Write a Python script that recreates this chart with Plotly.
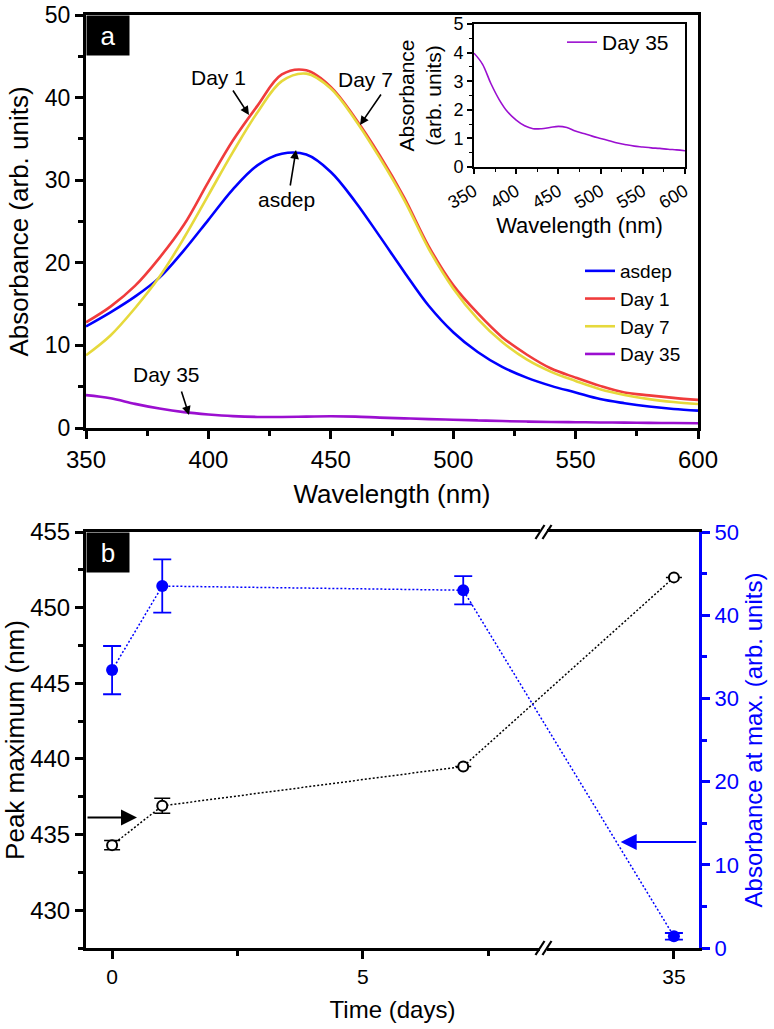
import plotly.graph_objects as go

W, H = 774, 1029
FONT = "Liberation Sans, Arial, sans-serif"

# ---------------- data: panel a ----------------
wavelength = [350, 360, 370, 380, 390, 400, 410, 420, 430, 440, 450, 460, 470,
              480, 490, 500, 510, 520, 530, 540, 550, 560, 570, 580, 590, 600]
asdep = [12.3, 14.0, 15.9, 18.2, 21.5, 25.2, 28.9, 31.8, 33.2, 33.1, 31.0, 27.4, 23.2,
         18.9, 14.8, 11.6, 9.2, 7.4, 6.1, 5.1, 4.3, 3.5, 3.0, 2.6, 2.3, 2.1]
day1 = [12.8, 14.7, 17.2, 20.6, 24.6, 29.8, 34.8, 39.0, 42.8, 43.3, 41.3, 37.5, 33.0,
        27.9, 22.0, 17.3, 13.9, 11.0, 8.9, 7.2, 6.1, 5.1, 4.3, 3.95, 3.65, 3.4]
day7 = [8.8, 11.2, 14.5, 18.3, 23.0, 28.2, 33.4, 38.2, 42.0, 42.9, 41.1, 37.3, 32.7,
        27.6, 21.7, 16.9, 13.2, 10.4, 8.3, 6.8, 5.7, 4.7, 4.0, 3.5, 3.15, 2.9]
day35 = [3.98, 3.6, 2.92, 2.35, 1.92, 1.64, 1.44, 1.34, 1.34, 1.38, 1.42, 1.38, 1.26,
         1.17, 1.08, 1.00, 0.92, 0.84, 0.78, 0.73, 0.70, 0.67, 0.65, 0.62, 0.60, 0.57]
series_names = ["asdep", "Day 1", "Day 7", "Day 35"]
series_colors = ["#0000FF", "#F03C3C", "#E6D93C", "#9B0FD0"]

# ---------------- data: panel b ----------------
days = [0, 1, 7, 35]
peak_max = [434.3, 436.9, 439.5, 452.0]
peak_max_err = [0.3, 0.5, 0.0, 0.0]
abs_max = [33.4, 43.5, 43.0, 1.4]
abs_max_err = [2.9, 3.2, 1.7, 0.4]
time_ticks = [0, 5, 35]
time_minor = [2.5, 7.5]
break_lo, break_hi = 8.6, 32.4


def to_pos(d):
    return d if d <= break_lo else d - (break_hi - break_lo)


def pxx(x):
    return x / W


def pxy(y):
    return 1 - y / H


A_TOP, A_BOT = 15, 428

fig = go.Figure()

for name, ys, col in zip(series_names, [asdep, day1, day7, day35], series_colors):
    fig.add_trace(go.Scatter(x=wavelength, y=ys, mode="lines", name=name,
                             line=dict(color=col, width=2.6, shape="spline"),
                             xaxis="x", yaxis="y", legend="legend"))

fig.add_trace(go.Scatter(x=wavelength, y=day35, mode="lines", name="Day 35",
                         line=dict(color=series_colors[3], width=1.6, shape="spline"),
                         xaxis="x2", yaxis="y2", legend="legend2"))

pos = [to_pos(d) for d in days]
fig.add_trace(go.Scatter(
    x=pos, y=peak_max, mode="lines+markers", showlegend=False,
    line=dict(color="black", width=1.5, dash="2px,2px"),
    marker=dict(symbol="circle", size=10, color="white", line=dict(color="black", width=2)),
    error_y=dict(type="data", array=peak_max_err, color="black", thickness=1.5, width=8),
    xaxis="x3", yaxis="y3"))
fig.add_trace(go.Scatter(
    x=pos, y=abs_max, mode="lines+markers", showlegend=False,
    line=dict(color="#0000FF", width=1.5, dash="2px,2px"),
    marker=dict(symbol="circle", size=12, color="#0000FF"),
    error_y=dict(type="data", array=abs_max_err, color="#0000FF", thickness=1.8, width=9),
    xaxis="x3", yaxis="y4"))

common = dict(showgrid=False, zeroline=False, showline=True, linecolor="black",
              linewidth=3, ticks="outside", tickwidth=2.5, ticklen=8, tickcolor="black",
              tickfont=dict(size=24, color="black", family=FONT), automargin=False,
              ticklabeloverflow="allow")

fig.update_layout(
    width=W, height=H, margin=dict(l=0, r=0, t=0, b=0),
    paper_bgcolor="white", plot_bgcolor="white",
    font=dict(family=FONT, color="black"),
    xaxis=dict(common, domain=[pxx(86), pxx(698)], anchor="y", range=[350, 600],
               tick0=350, dtick=50, mirror=True,
               minor=dict(dtick=25, ticklen=5, tickwidth=2.5, ticks="outside", tickcolor="black"),
               title=dict(text="Wavelength (nm)", font=dict(size=26), standoff=14)),
    yaxis=dict(common, domain=[pxy(A_BOT), pxy(A_TOP)], anchor="x", range=[0, 50],
               dtick=10, mirror=True, tickfont=dict(size=23),
               minor=dict(dtick=5, ticklen=5, tickwidth=2.5, ticks="outside", tickcolor="black"),
               title=dict(text="Absorbance (arb. units)", font=dict(size=26), standoff=9)),
    xaxis2=dict(common, domain=[pxx(474), pxx(685)], anchor="y2", range=[350, 600],
                tick0=350, dtick=50, mirror=True, linewidth=1.6, tickwidth=1.5, ticklen=5,
                tickangle=-30, tickfont=dict(size=18),
                minor=dict(dtick=25, ticklen=3, tickwidth=1.2, ticks="outside", tickcolor="black"),
                title=dict(text="Wavelength (nm)", font=dict(size=22), standoff=6)),
    yaxis2=dict(common, domain=[pxy(167), pxy(24)], anchor="x2", range=[0, 5],
                dtick=1, mirror=True, linewidth=1.6, tickwidth=1.5, ticklen=5,
                tickfont=dict(size=18),
                minor=dict(dtick=0.5, ticklen=3, tickwidth=1.2, ticks="outside", tickcolor="black"),
                title=dict(text="Absorbance<br>(arb. units)", font=dict(size=21), standoff=6)),
    xaxis3=dict(common, domain=[pxx(86), pxx(699)], anchor="y3",
                range=[to_pos(-0.52), to_pos(35.5)], mirror=True,
                tickvals=[to_pos(t) for t in time_ticks], ticktext=[str(t) for t in time_ticks],
                tickfont=dict(size=21),
                minor=dict(tickvals=[to_pos(t) for t in time_minor], ticklen=5, tickwidth=2.5,
                           ticks="outside", tickcolor="black"),
                title=dict(text="Time (days)", font=dict(size=24), standoff=14)),
    yaxis3=dict(common, domain=[pxy(948), pxy(532)], anchor="x3", range=[427.5, 455],
                tick0=430, dtick=5,
                minor=dict(dtick=2.5, ticklen=5, tickwidth=2.5, ticks="outside", tickcolor="black"),
                title=dict(text="Peak maximum (nm)", font=dict(size=26), standoff=6)),
    yaxis4=dict(common, overlaying="y3", anchor="x3", side="right", range=[0, 50], dtick=10,
                linecolor="#0000FF", tickcolor="#0000FF",
                tickfont=dict(size=22, color="#0000FF"),
                minor=dict(dtick=5, ticklen=5, tickwidth=2.5, ticks="outside", tickcolor="#0000FF"),
                title=dict(text="Absorbance at max. (arb. units)",
                           font=dict(size=24, color="#0000FF"), standoff=8)),
    legend=dict(x=pxx(580), y=pxy(252), xanchor="left", yanchor="top",
                bgcolor="rgba(0,0,0,0)", font=dict(size=19), tracegroupgap=0),
    legend2=dict(x=pxx(562), y=pxy(22), xanchor="left", yanchor="top",
                 bgcolor="rgba(0,0,0,0)", font=dict(size=21)),
)


def ax_x(px):
    return 350 + (px - 86) / 2.448


def ax_y(py):
    return 50 * (A_BOT - py) / (A_BOT - A_TOP)


annotations = []
# panel labels
for lbl, xr, yr in [("a", "x domain", "y domain"), ("b", "x3 domain", "y3 domain")]:
    annotations.append(dict(text=lbl, xref=xr, yref=yr, x=0, y=1, xanchor="left",
                            yanchor="top", showarrow=False, bgcolor="black",
                            font=dict(color="white", size=26), width=40, height=37,
                            borderpad=1))
# panel a texts
for txt, cx, cy in [("Day 1", 218.5, 77.5), ("asdep", 286, 199), ("Day 7", 365.5, 79),
                    ("Day 35", 166, 374)]:
    annotations.append(dict(text=txt, xref="x", yref="y", x=ax_x(cx), y=ax_y(cy),
                            showarrow=False, font=dict(size=21)))
# panel a arrows (tip px, tail offset)
for tx, ty, dx, dy in [(249, 115, -17, -26), (296, 150, -6, 37), (360, 125, 22, -32),
                       (189, 415, -8, -25)]:
    annotations.append(dict(text="", xref="x", yref="y", x=ax_x(tx), y=ax_y(ty),
                            ax=dx, ay=dy, showarrow=True, arrowhead=2, arrowwidth=1.6,
                            arrowsize=1.1, arrowcolor="black"))
# panel b arrows
annotations.append(dict(text="", xref="x3", yref="y3", x=(137 - 112) / 50.3,
                        y=455 - (815 - 532) / 15, ax=-51, ay=0, showarrow=True,
                        arrowhead=2, arrowwidth=2, arrowsize=1.6, arrowcolor="black"))
annotations.append(dict(text="", xref="x3", yref="y4", x=(622 - 112) / 50.3,
                        y=(948 - 842) / 8.32, ax=77, ay=0, showarrow=True,
                        arrowhead=2, arrowwidth=2, arrowsize=1.6, arrowcolor="#0000FF"))
fig.update_layout(annotations=annotations)

# axis break marks on panel b
shapes = []
bpos = to_pos(break_lo)
for yb in [pxy(532), pxy(948)]:
    shapes.append(dict(type="rect", xref="x3", yref="paper", xsizemode="pixel",
                       ysizemode="pixel", xanchor=bpos, yanchor=yb, x0=-3.5, x1=3.5,
                       y0=-3, y1=3, fillcolor="white", line=dict(width=0), layer="above"))
    for c in (-3.5, 3.5):
        shapes.append(dict(type="line", xref="x3", yref="paper", xsizemode="pixel",
                           ysizemode="pixel", xanchor=bpos, yanchor=yb,
                           x0=c - 4.5, x1=c + 4.5, y0=-7, y1=7,
                           line=dict(color="black", width=2.2), layer="above"))
fig.update_layout(shapes=shapes)

fig.write_html("out.html")
